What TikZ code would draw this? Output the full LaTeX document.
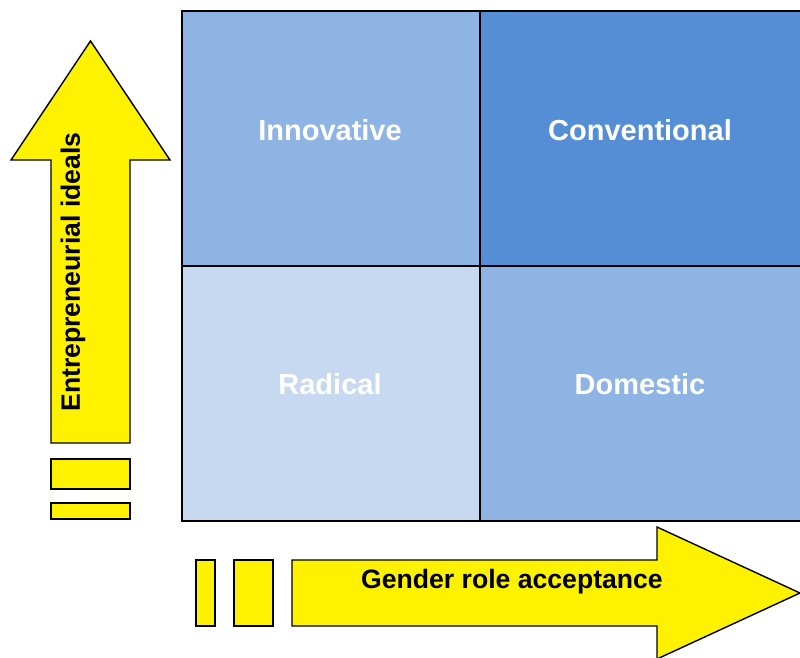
\documentclass[tikz,border=0pt]{standalone}
\usepackage{fontspec}
\setmainfont{Liberation Sans}
\begin{document}
\begin{tikzpicture}[x=1pt,y=-1pt,
  cell/.style={draw=black,line width=1.6pt,minimum width=298pt,minimum height=255pt,
    inner sep=0pt,outer sep=0pt,anchor=north west},
  celltext/.style={text=white,font=\bfseries\fontsize{29}{33}\selectfont},
  yarrow/.style={fill=yellow,draw=black,line width=1.4pt,line join=miter},
  arrowtext/.style={text=black,font=\bfseries\fontsize{26.6}{30}\selectfont}]
\definecolor{cellmid}{HTML}{8EB4E3}
\definecolor{celldark}{HTML}{558ED5}
\definecolor{celllight}{HTML}{C6D9F1}
\useasboundingbox (0,0) rectangle (800,657);
\clip (0,0) rectangle (800,657);

% quadrant cells
\node[cell,fill=cellmid]   (innov) at (182,11)  {};
\node[cell,fill=celldark,minimum width=322pt]  (conv)  at (480,11)  {};
\node[cell,fill=celllight] (rad)   at (182,266) {};
\node[cell,fill=cellmid,minimum width=322pt]   (dom)   at (480,266) {};
\node[celltext] (innovL) at (330,130) {Innovative};
\node[celltext] (convL)  at (640,130) {Conventional};
\node[celltext] (radL)   at (330,384) {Radical};
\node[celltext] (domL)   at (640,384) {Domestic};

% vertical arrow with its dashed tail
\draw[yarrow] (51,443) -- (51,160) -- (11,160) -- (90.5,41) -- (170,160) -- (130,160) -- (130,443) -- cycle;
\draw[yarrow] (51,459) rectangle (130,489);
\draw[yarrow] (51,503) rectangle (130,519);
\node[arrowtext,rotate=90] (ylab) at (73,272) {Entrepreneurial ideals};

% horizontal arrow with its dashed tail
\draw[yarrow] (196,560) rectangle (215,626);
\draw[yarrow] (234,560) rectangle (273,626);
\draw[yarrow] (292,560) -- (657,560) -- (657,527) -- (800,593) -- (657,659) -- (657,626) -- (292,626) -- cycle;
\node[arrowtext] (xlab) at (512,582) {Gender role acceptance};
\end{tikzpicture}
\end{document}
